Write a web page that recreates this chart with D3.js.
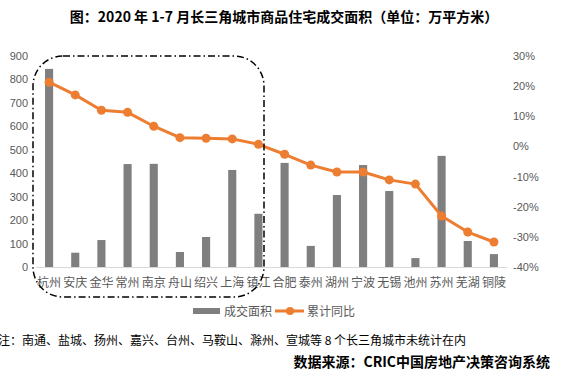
<!DOCTYPE html>
<html>
<head>
  <meta charset="utf-8">
  <script src="https://d3js.org/d3.v7.min.js"></script>
  <style>
    html, body {
      margin: 0px;
      padding: 0px;
      background: #fff;
      font-family: "Noto Sans CJK SC", "Noto Sans", sans-serif;
    }
    .axis text {
      fill: #595959;
      font-size: 11px;
    }
    .cat {
      fill: #595959;
      font-size: 12px;
    }
  </style>
</head>
<body>
  <div id="chart"></div>
  <script>

      // data
      const cities = ["杭州","安庆","金华","常州","南京","舟山","绍兴","上海","镇江",
                      "合肥","泰州","湖州","宁波","无锡","池州","苏州","芜湖","铜陵"];
      const area = [845, 61, 115, 439, 440, 64, 128, 414, 227,
                    444, 90, 307, 435, 324, 38, 474, 111, 55];
      const yoy = [0.213, 0.171, 0.120, 0.113, 0.067, 0.029, 0.027, 0.025, 0.007,
                   -0.026, -0.062, -0.085, -0.085, -0.111, -0.125, -0.231, -0.284, -0.317];
      const leftTicks = [0, 100, 200, 300, 400, 500, 600, 700, 800, 900];
      const rightTicks = [-0.4, -0.3, -0.2, -0.1, 0, 0.1, 0.2, 0.3];

      const width = 567, height = 377;
      const margin = {top: 56, left: 36, right: 60, bottom: 110};

      const svg = d3.select("#chart")
        .append("svg")
        .attr("width", width)
        .attr("height", height);

      /*
      SCALES
      */
      const xScale = d3.scaleBand()
        .domain(cities)
        .range([margin.left, width - margin.right])
        .paddingInner(0.69)
        .paddingOuter(0.345);

      const yLeft = d3.scaleLinear()
        .domain([0, 900])
        .range([height - margin.bottom, margin.top]);

      const yRight = d3.scaleLinear()
        .domain([-0.4, 0.3])
        .range([height - margin.bottom, margin.top]);

      /*
      TITLE
      */
      svg.append("text")
        .attr("x", 284)
        .attr("y", 22)
        .attr("text-anchor", "middle")
        .style("font-size", "14px")
        .style("font-weight", "bold")
        .text("图：2020 年 1-7 月长三角城市商品住宅成交面积（单位：万平方米）");

      /*
      AXES
      */
      svg.append("g")
        .attr("class", "axis")
        .attr("transform", `translate(${margin.left},0)`)
        .call(d3.axisLeft(yLeft).tickValues(leftTicks).tickSize(0).tickPadding(8))
        .call(g => g.select(".domain").remove());

      svg.append("g")
        .attr("class", "axis")
        .attr("transform", `translate(${width - margin.right},0)`)
        .call(d3.axisRight(yRight).tickValues(rightTicks).tickSize(0).tickPadding(6)
          .tickFormat(d => Math.round(d * 100) + "%"))
        .call(g => g.select(".domain").remove());

      svg.append("line")
        .attr("x1", margin.left)
        .attr("x2", width - margin.right)
        .attr("y1", yLeft(0) + 0.5)
        .attr("y2", yLeft(0) + 0.5)
        .attr("stroke", "#d9d9d9")
        .attr("stroke-width", 1);

      /*
      BARS
      */
      svg.selectAll("rect.bar")
        .data(cities)
        .enter()
        .append("rect")
          .attr("class", "bar")
          .attr("x", d => xScale(d))
          .attr("y", (d, i) => yLeft(area[i]))
          .attr("width", xScale.bandwidth())
          .attr("height", (d, i) => yLeft(0) - yLeft(area[i]))
          .attr("fill", "#7f7f7f");

      /*
      LINE
      */
      const line = d3.line()
        .x((d, i) => xScale(cities[i]) + xScale.bandwidth() / 2)
        .y(d => yRight(d));

      svg.append("path")
        .datum(yoy)
        .attr("d", line)
        .attr("fill", "none")
        .attr("stroke", "#ed7d31")
        .attr("stroke-width", 3)
        .attr("stroke-linejoin", "round");

      svg.selectAll("circle.pt")
        .data(yoy)
        .enter()
        .append("circle")
          .attr("class", "pt")
          .attr("cx", (d, i) => xScale(cities[i]) + xScale.bandwidth() / 2)
          .attr("cy", d => yRight(d))
          .attr("r", 4.5)
          .attr("fill", "#ed7d31");

      /*
      CATEGORY LABELS
      */
      svg.selectAll("text.cat")
        .data(cities)
        .enter()
        .append("text")
          .attr("class", "cat")
          .attr("x", d => xScale(d) + xScale.bandwidth() / 2)
          .attr("y", 287)
          .attr("text-anchor", "middle")
          .text(d => d);

      /*
      DASH-DOT HIGHLIGHT BOX round the first nine cities
      */
      svg.append("rect")
        .attr("x", 33)
        .attr("y", 56)
        .attr("width", 231)
        .attr("height", 241)
        .attr("rx", 30)
        .attr("ry", 30)
        .attr("fill", "none")
        .attr("stroke", "#000")
        .attr("stroke-width", 1.5)
        .attr("stroke-dasharray", "7,3,1.5,3");

      /*
      LEGEND
      */
      const legend = svg.append("g").attr("transform", "translate(0,311)");
      legend.append("rect")
        .attr("x", 193).attr("y", -3).attr("width", 27).attr("height", 6)
        .attr("fill", "#7f7f7f");
      legend.append("text")
        .attr("class", "cat")
        .attr("x", 224).attr("y", 4.5)
        .text("成交面积");
      legend.append("line")
        .attr("x1", 275).attr("x2", 304).attr("y1", 0).attr("y2", 0)
        .attr("stroke", "#ed7d31").attr("stroke-width", 3);
      legend.append("circle")
        .attr("cx", 290).attr("cy", 0).attr("r", 4)
        .attr("fill", "#ed7d31");
      legend.append("text")
        .attr("class", "cat")
        .attr("x", 307).attr("y", 4.5)
        .text("累计同比");

      /*
      NOTE AND SOURCE
      */
      svg.append("text")
        .attr("x", -2)
        .attr("y", 345)
        .style("font-size", "12px")
        .style("fill", "#000")
        .text("注：南通、盐城、扬州、嘉兴、台州、马鞍山、滁州、宣城等 8 个长三角城市未统计在内");

      svg.append("text")
        .attr("x", 550)
        .attr("y", 367)
        .attr("text-anchor", "end")
        .style("font-size", "14px")
        .style("font-weight", "bold")
        .style("fill", "#000")
        .text("数据来源：CRIC中国房地产决策咨询系统");

  </script>
</body>
</html>
